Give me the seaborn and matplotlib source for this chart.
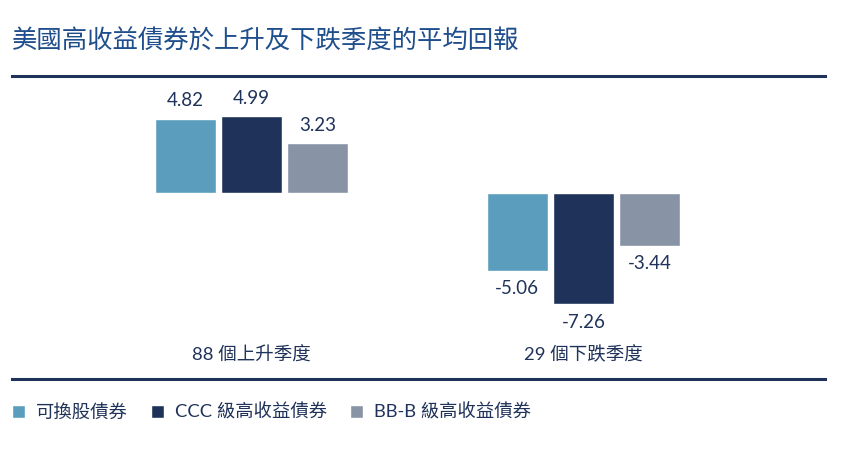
import pandas as pd
import matplotlib.pyplot as plt
import seaborn as sns

#  Data
periods = ["88 個上升季度", "29 個下跌季度"]
series = ["可換股債券", "CCC 級高收益債券", "BB-B 級高收益債券"]
convertible = [4.82, -5.06]
ccc = [4.99, -7.26]
bb_b = [3.23, -3.44]
colors = ["#5b9dbd", "#1f3259", "#8893a6"]

navy = "#1f3259"
cjk = ["Lato", "Noto Sans CJK TC", "DejaVu Sans"]

rows = []
for name, vals in zip(series, [convertible, ccc, bb_b]):
    for p, v in zip(periods, vals):
        rows.append({"period": p, "series": name, "value": v})
df = pd.DataFrame(rows)

sns.set_style("white")
plt.rcParams["font.family"] = cjk

W, H = 856, 449
fig = plt.figure(figsize=(W / 100, H / 100), dpi=100)
# axes spans between the two rules
ax = fig.add_axes([12 / W, 1 - 379 / H, (825 - 12) / W, (379 - 76) / H])

sns.barplot(data=df, x="period", y="value", hue="series", palette=colors,
            width=0.6, gap=0.08, saturation=1, ax=ax, legend=True)

ax.set_xlim(-0.722, 1.728)
ax.set_ylim(-12.12, 7.62)
ax.set_xticks([])
ax.set_yticks([])
ax.set_xlabel("")
ax.set_ylabel("")
for s in ["left", "right"]:
    ax.spines[s].set_visible(False)
for s in ["top", "bottom"]:
    ax.spines[s].set_color(navy)
    ax.spines[s].set_linewidth(2.2)

for cont in ax.containers:
    ax.bar_label(cont, fmt="%.2f", padding=7, fontsize=13.5, color=navy)

# category labels inside the bottom rule
for i, p in enumerate(periods):
    ax.text(i, 0.08, p, transform=ax.get_xaxis_transform(), ha="center",
            va="center", fontsize=13.3, color=navy)

fig.text(12 / W, 1 - 42 / H, "美國高收益債券於上升及下跌季度的平均回報",
         ha="left", va="center", fontsize=18.3, color="#1f4e8c",
         family=["Noto Sans CJK TC", "DejaVu Sans"])

handles, labels = ax.get_legend_handles_labels()
ax.legend_.remove()
fig.legend(handles, labels, loc="center left", bbox_to_anchor=(12 / W, 1 - 412 / H),
           ncol=3, frameon=False, fontsize=13.2, handlelength=0.71, handleheight=0.71,
           handletextpad=0.6, columnspacing=1.25, borderpad=0, borderaxespad=0,
           labelcolor=navy)

fig.savefig("out.png", dpi=100)
